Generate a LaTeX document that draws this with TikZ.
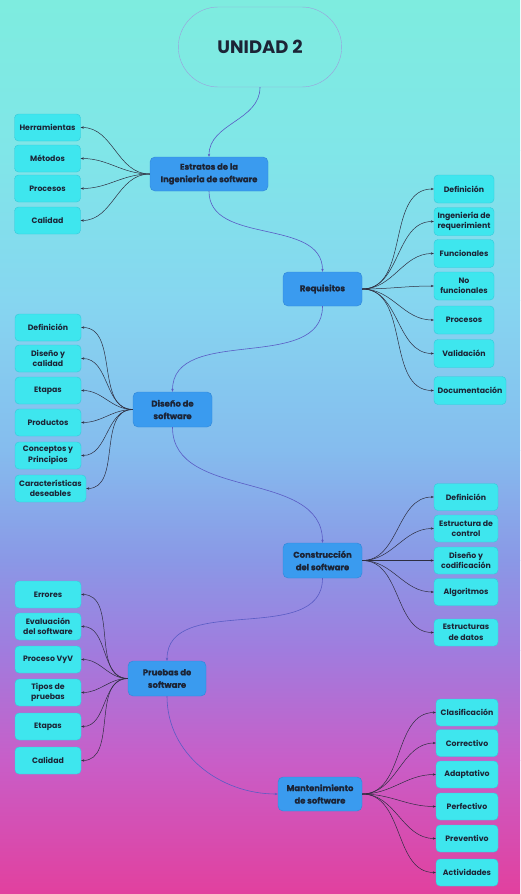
\documentclass[tikz,border=0pt]{standalone}
\usepackage{fontspec}
\setmainfont{Poppins}
\newfontfamily\heavyfont[FakeBold=0.8]{Poppins}
\usetikzlibrary{arrows.meta,shapes.misc}
\definecolor{mainblue}{HTML}{3A9BEF}
\definecolor{mainborder}{HTML}{2F86D8}
\definecolor{leafc}{HTML}{3EE6EE}
\definecolor{leafborder}{HTML}{34C9DA}
\definecolor{txt}{HTML}{1C2436}
\definecolor{chain}{HTML}{5A5CC4}
\definecolor{leafline}{HTML}{2E2E40}
\definecolor{b0}{HTML}{7EECDF}
\definecolor{b1}{HTML}{80E6E8}
\definecolor{b2}{HTML}{86D6F0}
\definecolor{b3}{HTML}{85BCEE}
\definecolor{b4}{HTML}{8A98E6}
\definecolor{b5}{HTML}{A07CDE}
\definecolor{b6}{HTML}{C85EC8}
\definecolor{b7}{HTML}{E2409E}
\tikzset{
  mainnode/.style={rectangle, rounded corners=5pt, fill=mainblue, draw=mainborder, line width=0.4pt,
    text=txt, font=\heavyfont\bfseries\fontsize{8.4}{12.5}\selectfont, align=center, inner sep=0pt, minimum height=34pt},
  leafnode/.style={rectangle, rounded corners=4pt, fill=leafc, draw=leafborder, line width=0.4pt,
    text=txt, font=\bfseries\fontsize{7.8}{10.5}\selectfont, align=center, inner sep=0pt, minimum height=27pt},
  chainline/.style={draw=chain, line width=0.6pt, -{Stealth[length=3pt,width=2.5pt]}},
  leafline/.style={draw=leafline, line width=0.5pt, -{Stealth[length=3pt,width=2.4pt]}},
}
\begin{document}
\begin{tikzpicture}[x=1pt,y=-1pt]
\useasboundingbox (0,0) rectangle (520,894);
% background bands
\shade[top color=b0,bottom color=b1] (0,0) rectangle (520,150.5);
\shade[top color=b1,bottom color=b2] (0,150) rectangle (520,300.5);
\shade[top color=b2,bottom color=b3] (0,300) rectangle (520,450.5);
\shade[top color=b3,bottom color=b4] (0,450) rectangle (520,560.5);
\shade[top color=b4,bottom color=b5] (0,560) rectangle (520,650.5);
\shade[top color=b5,bottom color=b6] (0,650) rectangle (520,760.5);
\shade[top color=b6,bottom color=b7] (0,760) rectangle (520,894);

% title
\node[rounded rectangle, draw=chain!60, line width=0.4pt, minimum width=170pt, minimum height=80pt,
  text=txt, font=\bfseries\fontsize{18}{20}\selectfont] (title) at (260,47) {UNIDAD 2};

% main nodes
\node[mainnode, minimum width=118pt] (est) at (209,174) {Estratos de la\\Ingenieria de software};
\node[mainnode, minimum width=79pt] (req) at (322.5,289) {Requisitos};
\node[mainnode, minimum width=79pt, minimum height=35pt] (dis) at (172.5,409.5) {Diseño de\\software};
\node[mainnode, minimum width=79pt, minimum height=35pt] (con) at (322.5,560.5) {Construcción\\del software};
\node[mainnode, minimum width=78pt, minimum height=35pt] (pru) at (167,678.5) {Pruebas de\\software};
\node[mainnode, minimum width=84pt] (man) at (320,794) {Mantenimiento\\de software};

% chain connectors
\draw[chainline] (title.south) to[out=-90,in=90] (est.north);
\draw[chainline] (est.south) to[out=-90,in=90] (req.north);
\draw[chainline] (req.south) to[out=-90,in=90] (dis.north);
\draw[chainline] (dis.south) to[out=-90,in=90] (con.north);
\draw[chainline] (con.south) to[out=-90,in=90] (pru.north);
\draw[chainline] (pru.south) to[out=-90,in=180] (man.west);

% Estratos leaves
\node[leafnode, minimum width=66pt] (e1) at (47.5,127.5) {Herramientas};
\node[leafnode, minimum width=66pt] (e2) at (47.5,158.5) {Métodos};
\node[leafnode, minimum width=66pt] (e3) at (47.5,188.5) {Procesos};
\node[leafnode, minimum width=66pt] (e4) at (47.5,220.5) {Calidad};
\foreach \n in {e1,e2,e3,e4} \draw[leafline] (est.west) to[out=180,in=0] (\n.east);

% Requisitos leaves
\node[leafnode, minimum width=60pt, minimum height=28pt] (r1) at (464,189) {Definición};
\node[leafnode, minimum width=60pt, minimum height=28pt] (r2) at (464,221.5) {Ingeniería de\\requerimient};
\node[leafnode, minimum width=60pt, minimum height=28pt] (r3) at (464,253.5) {Funcionales};
\node[leafnode, minimum width=60pt, minimum height=28pt] (r4) at (464,286) {No\\funcionales};
\node[leafnode, minimum width=60pt, minimum height=28pt] (r5) at (464,320) {Procesos};
\node[leafnode, minimum width=60pt, minimum height=28pt] (r6) at (464,353.5) {Validación};
\node[leafnode, minimum width=72pt, minimum height=28pt] (r7) at (470,390.5) {Documentación};
\foreach \n in {r1,r2,r3,r4,r5,r6,r7} \draw[leafline] (req.east) to[out=0,in=180] (\n.west);

% Diseno leaves
\node[leafnode, minimum width=66pt] (d1) at (48,327.5) {Definición};
\node[leafnode, minimum width=66pt] (d2) at (48,358.5) {Diseño y\\calidad};
\node[leafnode, minimum width=66pt] (d3) at (48,390.5) {Etapas};
\node[leafnode, minimum width=66pt] (d4) at (48,422.5) {Productos};
\node[leafnode, minimum width=66pt] (d5) at (48,455.5) {Conceptos y\\Principios};
\node[leafnode, minimum width=71pt] (d6) at (50.5,488.5) {Características\\deseables};
\foreach \n in {d1,d2,d3,d4,d5,d6} \draw[leafline] (dis.west) to[out=180,in=0] (\n.east);

% Construccion leaves
\node[leafnode, minimum width=64pt] (c1) at (466,497) {Definición};
\node[leafnode, minimum width=64pt] (c2) at (466,528.5) {Estructura de\\control};
\node[leafnode, minimum width=64pt] (c3) at (466,560.5) {Diseño y\\codificación};
\node[leafnode, minimum width=64pt] (c4) at (466,592) {Algoritmos};
\node[leafnode, minimum width=64pt] (c5) at (466,632.5) {Estructuras\\de datos};
\foreach \n in {c1,c2,c3,c4,c5} \draw[leafline] (con.east) to[out=0,in=180] (\n.west);

% Pruebas leaves
\node[leafnode, minimum width=66pt] (p1) at (48,594.5) {Errores};
\node[leafnode, minimum width=66pt] (p2) at (48,626.5) {Evaluación\\del software};
\node[leafnode, minimum width=66pt] (p3) at (48,659.5) {Proceso VyV};
\node[leafnode, minimum width=66pt] (p4) at (48,692.5) {Tipos de\\pruebas};
\node[leafnode, minimum width=66pt] (p5) at (48,726.5) {Etapas};
\node[leafnode, minimum width=66pt] (p6) at (48,760.5) {Calidad};
\foreach \n in {p1,p2,p3,p4,p5,p6} \draw[leafline] (pru.west) to[out=180,in=0] (\n.east);

% Mantenimiento leaves
\node[leafnode, minimum width=62pt] (m1) at (467,712.5) {Clasificación};
\node[leafnode, minimum width=62pt] (m2) at (467,743) {Correctivo};
\node[leafnode, minimum width=62pt] (m3) at (467,774.5) {Adaptativo};
\node[leafnode, minimum width=62pt] (m4) at (467,806.5) {Perfectivo};
\node[leafnode, minimum width=62pt] (m5) at (467,838.5) {Preventivo};
\node[leafnode, minimum width=62pt] (m6) at (467,872.5) {Actividades};
\foreach \n in {m1,m2,m3,m4,m5,m6} \draw[leafline] (man.east) to[out=0,in=180] (\n.west);
\end{tikzpicture}
\end{document}
